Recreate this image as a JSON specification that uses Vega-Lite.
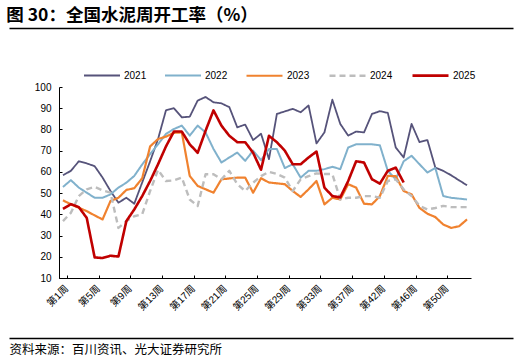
{
"$schema":"https://vega.github.io/schema/vega-lite/v6.json",
"padding":{"left":6,"right":6,"top":6,"bottom":2},
"background":"white",
"config":{"view":{"stroke":null},"font":"Liberation Sans, Noto Sans CJK SC"},
"title":{"text":"图 30：全国水泥周开工率（%）","anchor":"start","frame":"bounds","fontSize":17.5,"fontWeight":"bold","font":"Noto Sans CJK SC","color":"#000","offset":4},
"width":504,"height":191,
"resolve":{"scale":{"x":"independent"},"axis":{"x":"independent"}},
"layer":[
{
"data":{"values":[
{"y":"2021","w":"第1周","v":58.4},{"y":"2021","w":"第2周","v":60.5},{"y":"2021","w":"第3周","v":65},{"y":"2021","w":"第4周","v":64},{"y":"2021","w":"第5周","v":62.7},{"y":"2021","w":"第6周","v":57.3},{"y":"2021","w":"第7周","v":51},{"y":"2021","w":"第8周","v":45.5},{"y":"2021","w":"第9周","v":47.8},{"y":"2021","w":"第10周","v":45},{"y":"2021","w":"第11周","v":55},{"y":"2021","w":"第12周","v":65},{"y":"2021","w":"第13周","v":75.5},{"y":"2021","w":"第14周","v":89},{"y":"2021","w":"第15周","v":90},{"y":"2021","w":"第16周","v":85.7},{"y":"2021","w":"第17周","v":86},{"y":"2021","w":"第18周","v":93.6},{"y":"2021","w":"第19周","v":95.3},{"y":"2021","w":"第20周","v":92.8},{"y":"2021","w":"第21周","v":92.3},{"y":"2021","w":"第22周","v":90.5},{"y":"2021","w":"第23周","v":81},{"y":"2021","w":"第24周","v":82.3},{"y":"2021","w":"第25周","v":75},{"y":"2021","w":"第26周","v":78},{"y":"2021","w":"第27周","v":66},{"y":"2021","w":"第28周","v":87.3},{"y":"2021","w":"第29周","v":88.5},{"y":"2021","w":"第30周","v":89.7},{"y":"2021","w":"第31周","v":88.1},{"y":"2021","w":"第32周","v":91.3},{"y":"2021","w":"第33周","v":73.4},{"y":"2021","w":"第34周","v":78.6},{"y":"2021","w":"第35周","v":94},{"y":"2021","w":"第36周","v":82.6},{"y":"2021","w":"第37周","v":77.1},{"y":"2021","w":"第38周","v":79},{"y":"2021","w":"第39周","v":78.6},{"y":"2021","w":"第40周","v":87.3},{"y":"2021","w":"第42周","v":88.6},{"y":"2021","w":"第43周","v":87.8},{"y":"2021","w":"第44周","v":71.5},{"y":"2021","w":"第45周","v":66.8},{"y":"2021","w":"第46周","v":82.6},{"y":"2021","w":"第47周","v":74},{"y":"2021","w":"第48周","v":75},{"y":"2021","w":"第49周","v":62},{"y":"2021","w":"第50周","v":60.5},{"y":"2021","w":"第51周","v":58.4},{"y":"2021","w":"第52周","v":56},{"y":"2021","w":"第53周","v":53.7},
{"y":"2022","w":"第1周","v":52.9},{"y":"2022","w":"第2周","v":56.1},{"y":"2022","w":"第3周","v":52.6},{"y":"2022","w":"第4周","v":50.2},{"y":"2022","w":"第5周","v":47.8},{"y":"2022","w":"第6周","v":47.8},{"y":"2022","w":"第7周","v":49.4},{"y":"2022","w":"第8周","v":52.6},{"y":"2022","w":"第9周","v":54.9},{"y":"2022","w":"第10周","v":58.1},{"y":"2022","w":"第11周","v":63.5},{"y":"2022","w":"第12周","v":68.4},{"y":"2022","w":"第13周","v":73},{"y":"2022","w":"第14周","v":77.9},{"y":"2022","w":"第15周","v":80.2},{"y":"2022","w":"第16周","v":81.8},{"y":"2022","w":"第17周","v":77.1},{"y":"2022","w":"第18周","v":81.8},{"y":"2022","w":"第19周","v":78.6},{"y":"2022","w":"第20周","v":70.8},{"y":"2022","w":"第21周","v":64.4},{"y":"2022","w":"第22周","v":66.8},{"y":"2022","w":"第23周","v":69.1},{"y":"2022","w":"第24周","v":65.2},{"y":"2022","w":"第25周","v":70},{"y":"2022","w":"第26周","v":65.5},{"y":"2022","w":"第27周","v":70.8},{"y":"2022","w":"第28周","v":70.8},{"y":"2022","w":"第29周","v":61.8},{"y":"2022","w":"第30周","v":63.6},{"y":"2022","w":"第31周","v":57.3},{"y":"2022","w":"第32周","v":60.5},{"y":"2022","w":"第33周","v":60.5},{"y":"2022","w":"第34周","v":61.3},{"y":"2022","w":"第35周","v":62.4},{"y":"2022","w":"第36周","v":61.3},{"y":"2022","w":"第37周","v":71.5},{"y":"2022","w":"第38周","v":73},{"y":"2022","w":"第39周","v":73},{"y":"2022","w":"第40周","v":73},{"y":"2022","w":"第42周","v":72.5},{"y":"2022","w":"第43周","v":60.5},{"y":"2022","w":"第44周","v":56.5},{"y":"2022","w":"第45周","v":65},{"y":"2022","w":"第46周","v":67.6},{"y":"2022","w":"第47周","v":63.6},{"y":"2022","w":"第48周","v":59.7},{"y":"2022","w":"第49周","v":61.8},{"y":"2022","w":"第50周","v":48.6},{"y":"2022","w":"第51周","v":47.8},{"y":"2022","w":"第52周","v":47.4},{"y":"2022","w":"第53周","v":47},
{"y":"2023","w":"第1周","v":46.6},{"y":"2023","w":"第2周","v":44.7},{"y":"2023","w":"第3周","v":43.1},{"y":"2023","w":"第4周","v":41.5},{"y":"2023","w":"第5周","v":39.5},{"y":"2023","w":"第6周","v":37.6},{"y":"2023","w":"第7周","v":46.3},{"y":"2023","w":"第8周","v":47.8},{"y":"2023","w":"第9周","v":51.5},{"y":"2023","w":"第10周","v":52.3},{"y":"2023","w":"第11周","v":57},{"y":"2023","w":"第12周","v":72},{"y":"2023","w":"第13周","v":75.5},{"y":"2023","w":"第14周","v":76.6},{"y":"2023","w":"第15周","v":78.4},{"y":"2023","w":"第16周","v":78.6},{"y":"2023","w":"第17周","v":58.1},{"y":"2023","w":"第18周","v":53.4},{"y":"2023","w":"第19周","v":51.8},{"y":"2023","w":"第20周","v":50.2},{"y":"2023","w":"第21周","v":56.5},{"y":"2023","w":"第22周","v":56.9},{"y":"2023","w":"第23周","v":57.3},{"y":"2023","w":"第24周","v":57.3},{"y":"2023","w":"第25周","v":50.2},{"y":"2023","w":"第26周","v":57},{"y":"2023","w":"第27周","v":55},{"y":"2023","w":"第28周","v":54.6},{"y":"2023","w":"第29周","v":54.2},{"y":"2023","w":"第30周","v":51},{"y":"2023","w":"第31周","v":48.2},{"y":"2023","w":"第32周","v":51.8},{"y":"2023","w":"第33周","v":55.7},{"y":"2023","w":"第34周","v":44.7},{"y":"2023","w":"第35周","v":47.8},{"y":"2023","w":"第36周","v":47},{"y":"2023","w":"第37周","v":54.2},{"y":"2023","w":"第38周","v":52.6},{"y":"2023","w":"第39周","v":45},{"y":"2023","w":"第40周","v":44.7},{"y":"2023","w":"第42周","v":48.6},{"y":"2023","w":"第43周","v":58.1},{"y":"2023","w":"第44周","v":58},{"y":"2023","w":"第45周","v":51},{"y":"2023","w":"第46周","v":49.4},{"y":"2023","w":"第47周","v":43},{"y":"2023","w":"第48周","v":40.3},{"y":"2023","w":"第49周","v":38.7},{"y":"2023","w":"第50周","v":35.2},{"y":"2023","w":"第51周","v":33.6},{"y":"2023","w":"第52周","v":34.4},{"y":"2023","w":"第53周","v":37.6},
{"y":"2024","w":"第1周","v":36.8},{"y":"2024","w":"第2周","v":40.7},{"y":"2024","w":"第3周","v":48.6},{"y":"2024","w":"第4周","v":51.8},{"y":"2024","w":"第5周","v":52.9},{"y":"2024","w":"第6周","v":51.3},{"y":"2024","w":"第7周","v":50.2},{"y":"2024","w":"第8周","v":33.6},{"y":"2024","w":"第9周","v":36.8},{"y":"2024","w":"第10周","v":39.1},{"y":"2024","w":"第11周","v":40},{"y":"2024","w":"第12周","v":51},{"y":"2024","w":"第13周","v":61},{"y":"2024","w":"第14周","v":55.7},{"y":"2024","w":"第15周","v":56},{"y":"2024","w":"第16周","v":57.3},{"y":"2024","w":"第17周","v":47},{"y":"2024","w":"第18周","v":43.9},{"y":"2024","w":"第19周","v":58.9},{"y":"2024","w":"第20周","v":58.9},{"y":"2024","w":"第21周","v":56.5},{"y":"2024","w":"第22周","v":60.5},{"y":"2024","w":"第23周","v":54.2},{"y":"2024","w":"第24周","v":51},{"y":"2024","w":"第25周","v":54.9},{"y":"2024","w":"第26周","v":58},{"y":"2024","w":"第27周","v":60},{"y":"2024","w":"第28周","v":59},{"y":"2024","w":"第29周","v":57.3},{"y":"2024","w":"第30周","v":51},{"y":"2024","w":"第31周","v":56.5},{"y":"2024","w":"第32周","v":58},{"y":"2024","w":"第33周","v":59.3},{"y":"2024","w":"第34周","v":59},{"y":"2024","w":"第35周","v":59},{"y":"2024","w":"第36周","v":47},{"y":"2024","w":"第37周","v":47.8},{"y":"2024","w":"第38周","v":47.8},{"y":"2024","w":"第39周","v":48.6},{"y":"2024","w":"第40周","v":48.6},{"y":"2024","w":"第42周","v":47.8},{"y":"2024","w":"第43周","v":55.7},{"y":"2024","w":"第44周","v":56.5},{"y":"2024","w":"第45周","v":51.8},{"y":"2024","w":"第46周","v":48.6},{"y":"2024","w":"第47周","v":44},{"y":"2024","w":"第48周","v":42.3},{"y":"2024","w":"第49周","v":43},{"y":"2024","w":"第50周","v":44},{"y":"2024","w":"第51周","v":43.4},{"y":"2024","w":"第52周","v":43.4},{"y":"2024","w":"第53周","v":43.4},
{"y":"2025","w":"第1周","v":42.6},{"y":"2025","w":"第2周","v":44.8},{"y":"2025","w":"第3周","v":43.4},{"y":"2025","w":"第4周","v":38.3},{"y":"2025","w":"第5周","v":19.7},{"y":"2025","w":"第6周","v":19.4},{"y":"2025","w":"第7周","v":20.5},{"y":"2025","w":"第8周","v":20.1},{"y":"2025","w":"第9周","v":36.8},{"y":"2025","w":"第10周","v":42.3},{"y":"2025","w":"第11周","v":48.6},{"y":"2025","w":"第12周","v":55.7},{"y":"2025","w":"第13周","v":63.6},{"y":"2025","w":"第14周","v":72},{"y":"2025","w":"第15周","v":79},{"y":"2025","w":"第16周","v":79},{"y":"2025","w":"第17周","v":73},{"y":"2025","w":"第18周","v":69},{"y":"2025","w":"第19周","v":79.4},{"y":"2025","w":"第20周","v":89},{"y":"2025","w":"第21周","v":81.8},{"y":"2025","w":"第22周","v":77},{"y":"2025","w":"第23周","v":74},{"y":"2025","w":"第24周","v":74},{"y":"2025","w":"第25周","v":69},{"y":"2025","w":"第26周","v":61},{"y":"2025","w":"第27周","v":77},{"y":"2025","w":"第28周","v":74},{"y":"2025","w":"第29周","v":70},{"y":"2025","w":"第30周","v":63.6},{"y":"2025","w":"第31周","v":63.6},{"y":"2025","w":"第32周","v":66.8},{"y":"2025","w":"第33周","v":69.6},{"y":"2025","w":"第34周","v":52.6},{"y":"2025","w":"第35周","v":48.6},{"y":"2025","w":"第36周","v":48},{"y":"2025","w":"第37周","v":55.7},{"y":"2025","w":"第38周","v":65},{"y":"2025","w":"第39周","v":64.4},{"y":"2025","w":"第40周","v":56.5},{"y":"2025","w":"第42周","v":54.5},{"y":"2025","w":"第43周","v":60.5},{"y":"2025","w":"第44周","v":62},{"y":"2025","w":"第45周","v":55}
]},
"mark":{"type":"line","strokeJoin":"round","strokeCap":"butt"},
"encoding":{
"x":{"field":"w","type":"ordinal","sort":null,"bandPosition":0.5,
"scale":{"type":"band","range":[50,462],"paddingInner":0,"paddingOuter":0},
"axis":{"title":null,"values":["第1周","第5周","第9周","第13周","第17周","第21周","第25周","第29周","第33周","第37周","第42周","第46周","第50周"],"tickBand":"extent","labelAngle":-45,"labelFontSize":10,"labelColor":"#000","domainColor":"#000","tickColor":"#000","tickSize":-3,"labelPadding":8,"labelOverlap":false,"labelFont":"Liberation Sans, Noto Sans CJK SC"}},
"y":{"field":"v","type":"quantitative","scale":{"domain":[10,100],"nice":false,"zero":false},
"axis":{"title":null,"values":[10,20,30,40,50,60,70,80,90,100],"grid":false,"offset":-50,"labelFontSize":10,"labelColor":"#000","domainColor":"#000","tickColor":"#000","tickSize":-3,"labelPadding":11,"labelOverlap":false,"labelBound":false,"labelFont":"Liberation Sans"}},
"color":{"field":"y","type":"nominal","scale":{"domain":["2021","2022","2023","2024","2025"],"range":["#56537a","#80b1cc","#f0822f","#bdbdbd","#c00000"]},
"legend":{"title":null,"orient":"none","legendX":74,"legendY":-31,"direction":"horizontal","symbolType":"stroke","symbolSize":1296,"labelFontSize":10,"labelColor":"#000","columnPadding":14,"labelOffset":3,"labelFont":"Liberation Sans"}},
"strokeDash":{"field":"y","type":"nominal","scale":{"domain":["2021","2022","2023","2024","2025"],"range":[[1,0],[1,0],[1,0],[6,4],[1,0]]},
"legend":{"title":null,"orient":"none","legendX":74,"legendY":-31,"direction":"horizontal","symbolType":"stroke","symbolSize":1296,"labelFontSize":10,"labelColor":"#000","columnPadding":14,"labelOffset":3,"labelFont":"Liberation Sans"}},
"strokeWidth":{"field":"y","type":"nominal","scale":{"domain":["2021","2022","2023","2024","2025"],"range":[1.8,2.6,2.2,2.6,4.5]},
"legend":{"title":null,"orient":"none","legendX":74,"legendY":-31,"direction":"horizontal","symbolType":"stroke","symbolSize":1296,"labelFontSize":10,"labelColor":"#000","columnPadding":14,"labelOffset":3,"labelFont":"Liberation Sans"}}
}
},
{
"data":{"values":[{"p":0},{"p":1}]},
"mark":{"type":"point","opacity":0},
"encoding":{
"x":{"field":"p","type":"quantitative","scale":{"domain":[0,1],"nice":false},"axis":{"orient":"top","offset":59,"ticks":false,"labels":false,"grid":false,"title":null,"domain":true,"domainColor":"#000000","domainOpacity":1,"domainWidth":1.3}}}
},
{
"data":{"values":[{"p":0},{"p":1}]},
"mark":{"type":"point","opacity":0},
"encoding":{
"x":{"field":"p","type":"quantitative","scale":{"domain":[0,1],"nice":false},"axis":{"orient":"bottom","offset":60,"ticks":false,"labels":false,"grid":false,"domain":true,"domainColor":"#000000","domainOpacity":1,"domainWidth":1.3,"title":"资料来源：百川资讯、光大证券研究所","titleAnchor":"start","titleAlign":"left","titleBaseline":"top","titlePadding":5,"titleFont":"Noto Sans CJK SC","titleFontSize":12.5,"titleFontWeight":"normal","titleColor":"#000"}}}
}
]
}
